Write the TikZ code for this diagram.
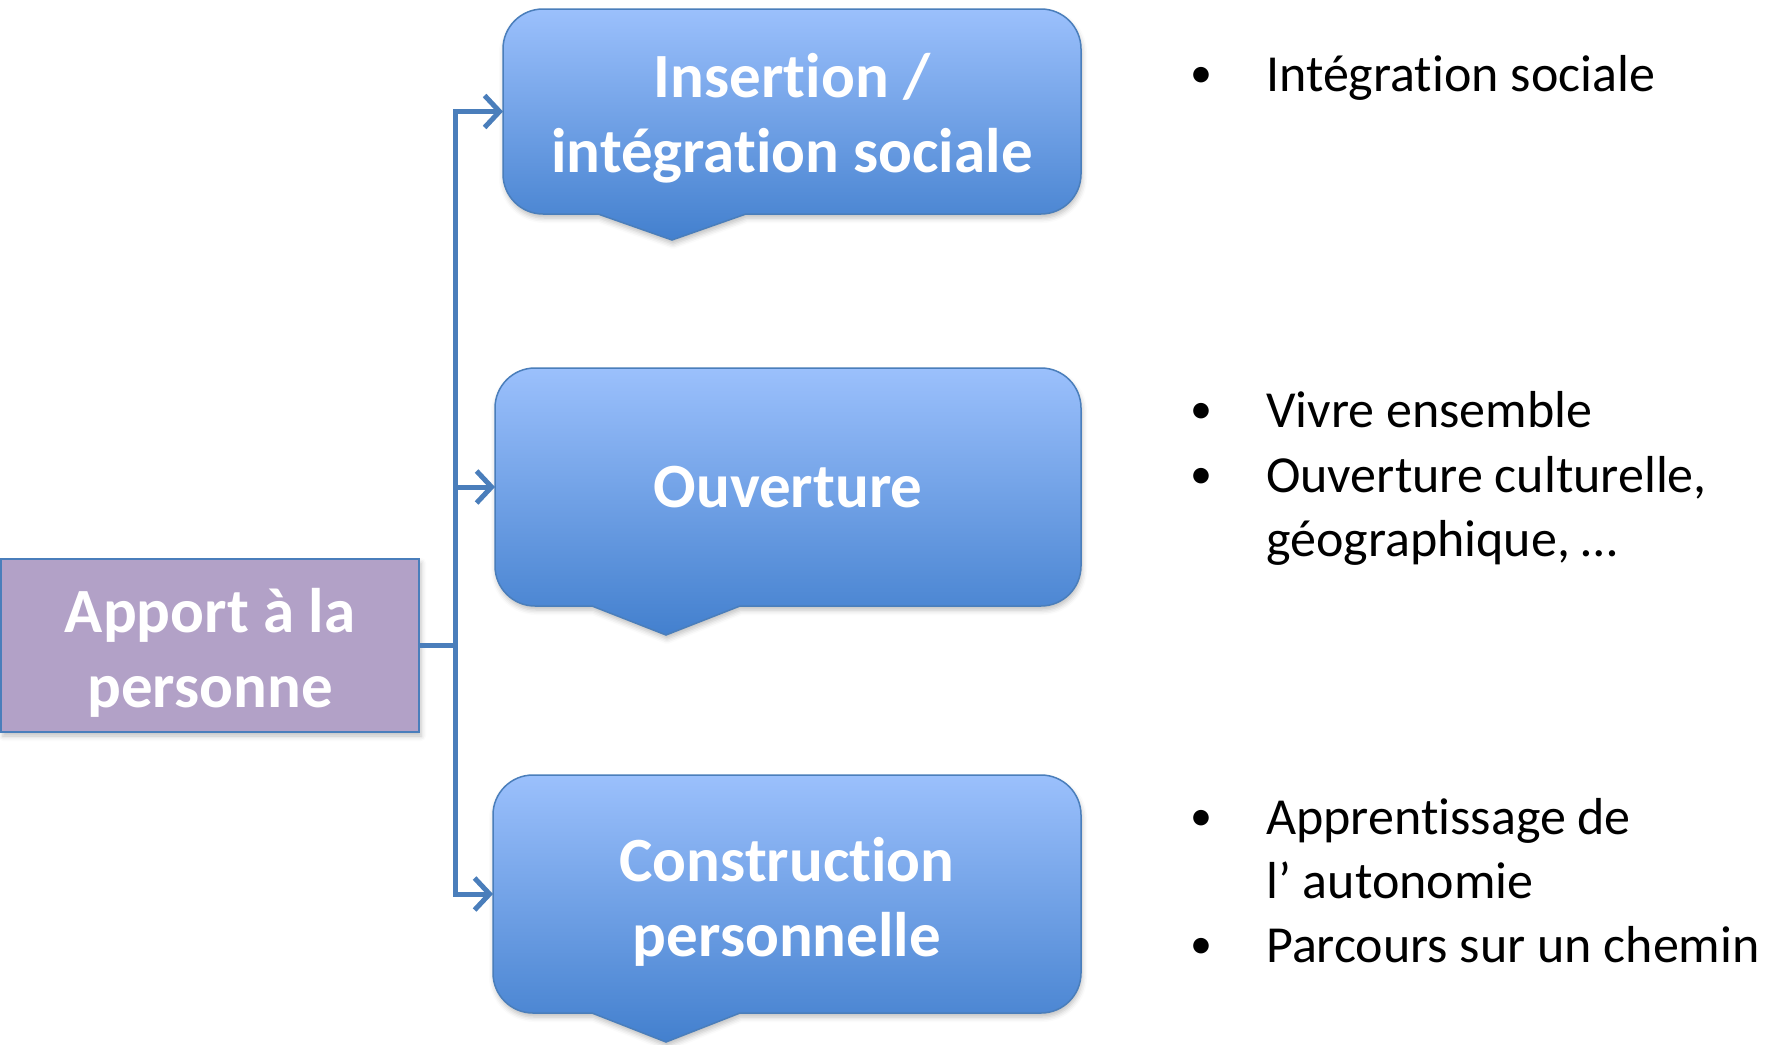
\documentclass[tikz,border=0pt]{standalone}
\usepackage{fontspec}
\setmainfont{Carlito}[Ligatures=NoCommon]
\usetikzlibrary{arrows.meta,shadows.blur}
\definecolor{lineblue}{HTML}{4A7EBB}
\definecolor{boxtop}{HTML}{9BC0FC}
\definecolor{boxbot}{HTML}{4380CE}
\definecolor{apfill}{HTML}{B2A1C7}
\newcommand\callout[7]{%
 \path[calloutshape] ({#1+40},{-#2}) -- ({#3-40},{-#2}) arc[start angle=90,end angle=0,radius=40]
   -- ({#3},{-#4+40}) arc[start angle=0,end angle=-90,radius=40]
   -- ({#6},{-#4}) -- ({(#5+#6)/2},{-#7}) -- ({#5},{-#4})
   -- ({#1+40},{-#4}) arc[start angle=-90,end angle=-180,radius=40]
   -- ({#1},{-#2-40}) arc[start angle=180,end angle=90,radius=40] -- cycle;}
\tikzset{
  calloutshape/.style={top color=boxtop, bottom color=boxbot, draw=lineblue, line width=1.5pt,
    blur shadow={shadow xshift=1pt, shadow yshift=-4pt, shadow blur radius=5pt, shadow opacity=25}},
  boxholder/.style={inner sep=0pt, outer sep=0pt},
  boxtxt/.style={text=white, font=\bfseries\fontsize{63}{75}\selectfont, align=center, inner sep=0pt},
  apport/.style={fill=apfill, draw=lineblue, line width=2pt, minimum width=418pt, minimum height=173pt,
    inner sep=0pt, blur shadow={shadow xshift=2pt, shadow yshift=-4pt, shadow blur radius=5pt, shadow opacity=25}},
  conn/.style={draw=lineblue, line width=5pt},
  arr/.style={conn, -{Straight Barb[length=15pt,width=32pt]}},
  bul/.style={font=\fontsize{52}{64}\selectfont, inner sep=0pt, anchor=base west},
  dot/.style={font=\fontsize{44}{64}\selectfont, inner sep=0pt, anchor=base, yshift=3.5pt},
}
\begin{document}
\begin{tikzpicture}[x=1pt,y=1pt]
\useasboundingbox (0,0) rectangle (1785,-1044);
% callout shapes
\callout{503}{9}{1081}{214}{598}{746}{240}
\callout{495}{368}{1081}{606}{592}{740}{635}
\callout{493}{775}{1081}{1013}{592}{740}{1042}
% box holders
\node[boxholder, minimum width=578pt, minimum height=205pt] (b1) at (792,-111.5) {};
\node[boxholder, minimum width=586pt, minimum height=238pt] (b2) at (788,-487) {};
\node[boxholder, minimum width=588pt, minimum height=238pt] (b3) at (787,-894) {};
\node[boxtxt] (t1) at ([yshift=-7pt]b1.center) {Insertion /\\intégration sociale};
\node[boxtxt] (t2) at (b2.center) {Ouverture};
\node[boxtxt] (t3) at ([yshift=-7.5pt]b3.center) {Construction\\personnelle};
% apport
\node[apport] (ap) at (210,-645.5) {};
\node[boxtxt] (apt) at ([yshift=-7pt]ap.center) {Apport à la\\personne};
% connectors
\coordinate (j) at (455,-645.5);
\draw[conn] (ap.east) -- (j);
\draw[arr] (j) |- (b1.west);
\draw[arr] (j) |- (b2.west);
\draw[arr] (j) |- (b3.west);
% bullets
\node[dot] (d1) at (1201,-91) {•};
\node[bul] (i1) at (1266,-91) {Intégration sociale};
\node[dot] (d2) at (1201,-427) {•};
\node[bul] (i2) at (1266,-427) {Vivre ensemble};
\node[dot] (d3) at (1201,-492) {•};
\node[bul] (i3a) at (1266,-492) {Ouverture culturelle,};
\node[bul] (i3b) at (1266,-556) {géographique, …};
\node[dot] (d4) at (1201,-834) {•};
\node[bul] (i4a) at (1266,-834) {Apprentissage de};
\node[bul] (i4b) at (1266,-898) {l’ autonomie};
\node[dot] (d5) at (1201,-962) {•};
\node[bul] (i5) at (1266,-962) {Parcours sur un chemin};
\end{tikzpicture}
\end{document}
